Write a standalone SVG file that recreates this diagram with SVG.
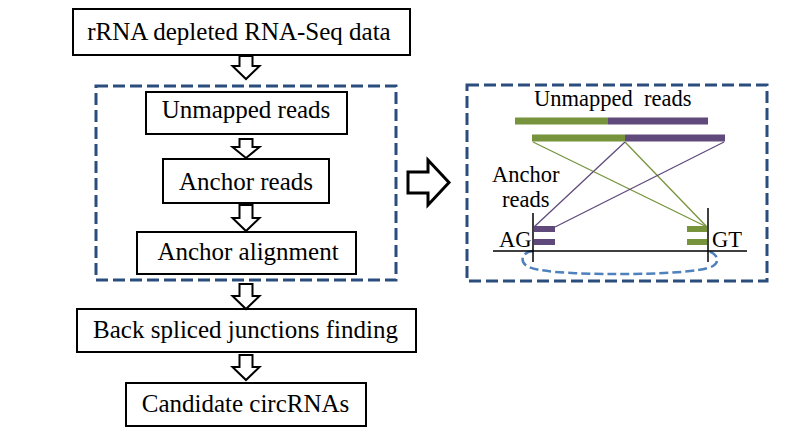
<svg xmlns="http://www.w3.org/2000/svg" width="801" height="431" viewBox="0 0 801 431">
<style>
.box{fill:#fff;stroke:#000;stroke-width:2}
.t{font-family:"Liberation Serif","Times New Roman",serif;font-size:25px;fill:#000;text-anchor:middle}
.t2{font-family:"Liberation Serif","Times New Roman",serif;font-size:22.5px;fill:#000}
.dash{fill:none;stroke:#2A4D7E;stroke-width:3;stroke-dasharray:12 5}
.barr{fill:#fff;stroke:#000;stroke-width:2;stroke-linejoin:miter}
.g{stroke:#77933C}
.p{stroke:#604A7B}
</style>
<rect width="801" height="431" fill="#fff"/>
<g id="group-left">
<rect class="dash" x="96" y="86" width="300" height="194"/>
</g>
<g id="n1"><rect class="box" x="73" y="9" width="337" height="46"/><text class="t" x="239" y="40">rRNA depleted RNA-Seq data</text></g>
<g id="n2"><rect class="box" x="146" y="92" width="201" height="42"/><text class="t" x="246" y="118">Unmapped reads</text></g>
<g id="n3"><rect class="box" x="163" y="159" width="166" height="44"/><text class="t" x="246" y="190">Anchor reads</text></g>
<g id="n4"><rect class="box" x="137" y="232" width="219" height="42"/><text class="t" x="248" y="260">Anchor alignment</text></g>
<g id="n5"><rect class="box" x="77" y="309" width="339" height="43"/><text class="t" x="245.5" y="338">Back spliced junctions finding</text></g>
<g id="n6"><rect class="box" x="126" y="383" width="240" height="43"/><text class="t" x="245.5" y="412">Candidate circRNAs</text></g>
<g id="connectors">
<path class="barr" d="M239.5,56 H252.5 V66 H259.5 L246,79 L232.5,66 H239.5 Z"/>
<path class="barr" d="M239.5,139 H252.5 V147 H259.5 L246,158 L232.5,147 H239.5 Z"/>
<path class="barr" d="M239.5,205 H252.5 V218 H259.5 L246,231 L232.5,218 H239.5 Z"/>
<path class="barr" d="M239.5,284 H252.5 V296 H259.5 L246,309 L232.5,296 H239.5 Z"/>
<path class="barr" d="M239.5,355 H252.5 V367 H259.5 L246,380 L232.5,367 H239.5 Z"/>
<path d="M408,172 H428 V160 L449,182.5 L428,205 V193 H408 Z" fill="#fff" stroke="#000" stroke-width="3" stroke-linejoin="miter"/>
</g>
<g id="panel-right">
<rect class="dash" x="467" y="85" width="300" height="196"/>
<text class="t2" x="534" y="106" xml:space="preserve">Unmapped  reads</text>
<line class="g" x1="515" y1="121" x2="608" y2="121" stroke-width="7"/>
<line class="p" x1="608" y1="121" x2="708" y2="121" stroke-width="7"/>
<line class="g" x1="532" y1="138" x2="625" y2="138" stroke-width="7"/>
<line class="p" x1="625" y1="138" x2="725" y2="138" stroke-width="7"/>
<line class="g" x1="533" y1="142" x2="707" y2="227" stroke-width="1.3"/>
<line class="g" x1="625" y1="142" x2="707" y2="227" stroke-width="1.3"/>
<line class="p" x1="625" y1="142" x2="534" y2="227" stroke-width="1.3"/>
<line class="p" x1="724" y1="142" x2="555" y2="227" stroke-width="1.3"/>
<text class="t2" x="492" y="182">Anchor</text>
<text class="t2" x="502" y="207">reads</text>
<line class="p" x1="534" y1="229" x2="555" y2="229" stroke-width="6"/>
<line class="p" x1="534" y1="242" x2="555" y2="242" stroke-width="6"/>
<line class="g" x1="687" y1="229" x2="707" y2="229" stroke-width="6"/>
<line class="g" x1="687" y1="242" x2="707" y2="242" stroke-width="6"/>
<path d="M533,251 C521,252 520,262 527,266 C540,274 600,274 620,274 C660,274 702,272 713,266 C720,262 718,254 708,251" fill="none" stroke="#4F81BD" stroke-width="2.5" stroke-dasharray="9 4"/>
<line x1="493" y1="251" x2="747" y2="251" stroke="#000" stroke-width="1.5"/>
<line x1="533" y1="213" x2="533" y2="262" stroke="#000" stroke-width="1.5"/>
<line x1="708" y1="208" x2="708" y2="262" stroke="#000" stroke-width="1.5"/>
<text class="t2" x="499" y="247">AG</text>
<text class="t2" x="712" y="247">GT</text>
</g>
</svg>
